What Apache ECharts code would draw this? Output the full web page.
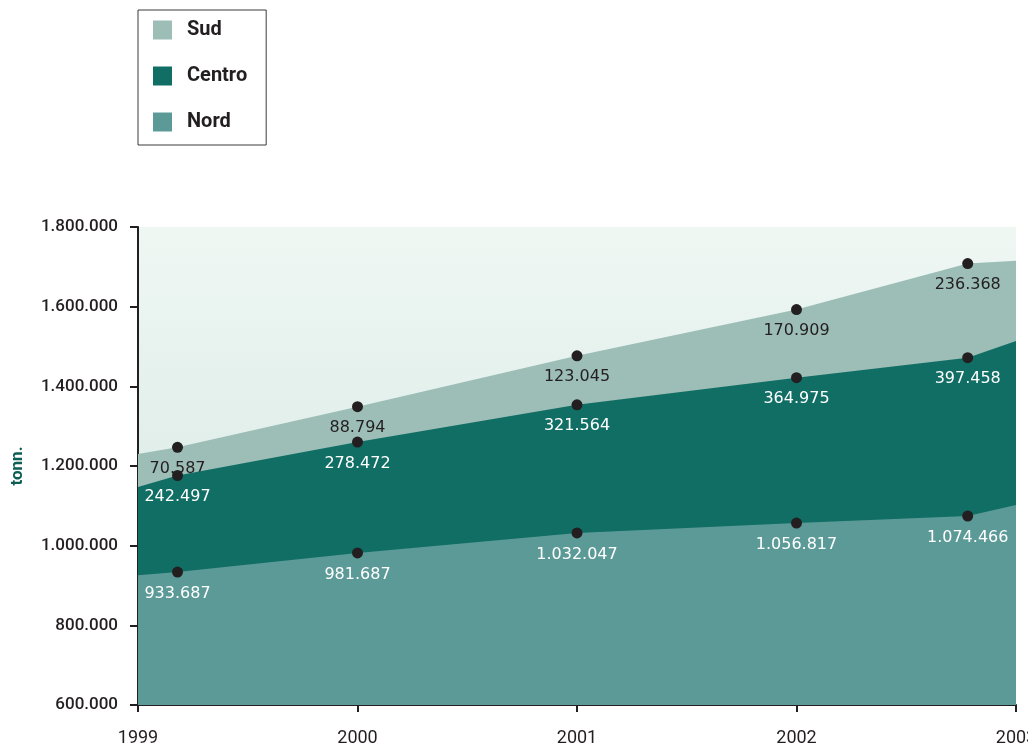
<!DOCTYPE html>
<html>
<head>
<meta charset="utf-8">
<script src="https://cdn.jsdelivr.net/npm/echarts@6/dist/echarts.min.js"></script>
<style>
  html, body { margin: 0; padding: 0; background: #ffffff; }
  #chart { width: 1028px; height: 747px; }
</style>
</head>
<body>
<div id="chart"></div>
<script>
// Year ticks on the horizontal axis
const years = [1999, 2000, 2001, 2002, 2003];
// Where each yearly measurement sits along the time axis
const samplePos = [1999.18, 2000, 2001, 2002, 2002.78];

// Tonnes per macro-area
const nord = [933687, 981687, 1032047, 1056817, 1074466];
const centro = [242497, 278472, 321564, 364975, 397458];
const sud = [70587, 88794, 123045, 170909, 236368];

// Band thickness where each area meets the left and right plot edges
const nordEdge = [926000, 1102000];
const centroEdge = [221000, 412000];
const sudEdge = [83000, 201000];

// Vertical scale
const yMin = 600000, yMax = 1800000, yStep = 200000;

const COLORS = { Nord: '#5c9a98', Centro: '#116e64', Sud: '#9dbdb7' };
const DOT = '#231f20';

function fmt(n) {
  return String(Math.round(n)).replace(/\B(?=(\d{3})+(?!\d))/g, '.');
}

// Running totals, so each band is filled from its own top edge down to the axis
function addArr(a, b) { return a.map((v, i) => v + b[i]); }
const nordTop = nord, nordTopEdge = nordEdge;
const centroTop = addArr(nordTop, centro), centroTopEdge = addArr(nordTopEdge, centroEdge);
const sudTop = addArr(centroTop, sud), sudTopEdge = addArr(centroTopEdge, sudEdge);

function buildData(tops, own, edge) {
  const out = [{ value: [years[0], edge[0]], symbol: 'none', label: { show: false } }];
  tops.forEach((v, i) => out.push({ value: [samplePos[i], v], own: own[i] }));
  out.push({ value: [years[years.length - 1], edge[1]], symbol: 'none', label: { show: false } });
  return out;
}

function areaSeries(name, tops, own, edge, labelColor, z) {
  return {
    name: name,
    type: 'line',
    z: z,
    data: buildData(tops, own, edge),
    showAllSymbol: true,
    symbol: 'circle',
    symbolSize: 11,
    itemStyle: { color: DOT, borderWidth: 0 },
    lineStyle: { width: 0, color: COLORS[name] },
    areaStyle: { color: COLORS[name], opacity: 1, origin: 'start' },
    emphasis: { disabled: true },
    animation: false,
    label: {
      show: true,
      position: 'bottom',
      distance: 8,
      color: labelColor,
      fontFamily: 'DejaVu Sans',
      fontSize: 16,
      formatter: p => fmt(p.data.own)
    }
  };
}

const chart = echarts.init(document.getElementById('chart'), null, { renderer: 'canvas' });

chart.setOption({
  backgroundColor: '#ffffff',
  animation: false,
  legend: {
    orient: 'vertical',
    left: 138,
    top: 10,
    padding: [10, 19, 13, 15],
    itemGap: 26,
    itemWidth: 19,
    itemHeight: 19,
    icon: 'rect',
    borderColor: '#3a3a3a',
    borderWidth: 1,
    backgroundColor: '#ffffff',
    selectedMode: false,
    textStyle: {
      fontFamily: 'Roboto',
      fontSize: 20,
      fontWeight: 'bold',
      color: DOT,
      padding: [0, 0, 0, 10]
    },
    data: [
      { name: 'Sud', itemStyle: { color: COLORS.Sud } },
      { name: 'Centro', itemStyle: { color: COLORS.Centro } },
      { name: 'Nord', itemStyle: { color: COLORS.Nord } }
    ]
  },
  grid: {
    left: 138,
    right: 12,
    top: 227,
    bottom: 42,
    outerBoundsMode: 'none',
    containLabel: false,
    show: true,
    borderWidth: 0,
    backgroundColor: new echarts.graphic.LinearGradient(0, 0, 0, 1, [
      { offset: 0, color: '#eff7f3' },
      { offset: 0.5, color: '#e0eeea' },
      { offset: 1, color: '#d6e8e3' }
    ])
  },
  xAxis: {
    type: 'value',
    min: years[0],
    max: years[years.length - 1],
    interval: 1,
    splitLine: { show: false },
    axisLine: { show: true, lineStyle: { color: DOT, width: 2 } },
    axisTick: { show: true, length: 7, lineStyle: { color: DOT, width: 2 } },
    axisLabel: {
      margin: 24,
      color: DOT,
      fontFamily: 'Roboto',
      fontSize: 18,
      hideOverlap: false,
      showMaxLabel: true,
      formatter: v => String(v)
    }
  },
  yAxis: {
    type: 'value',
    min: yMin,
    max: yMax,
    interval: yStep,
    name: 'tonn.',
    nameLocation: 'middle',
    nameRotate: 90,
    nameGap: 112,
    nameTextStyle: {
      color: '#0d5f55',
      fontFamily: 'Roboto',
      fontWeight: 'bold',
      fontSize: 17
    },
    splitLine: { show: false },
    axisLine: { show: true, lineStyle: { color: DOT, width: 2 } },
    axisTick: { show: true, length: 8, lineStyle: { color: DOT, width: 2 } },
    axisLabel: {
      margin: 20,
      color: DOT,
      fontFamily: 'Roboto',
      fontWeight: 500,
      fontSize: 17,
      formatter: v => fmt(v)
    }
  },
  series: [
    areaSeries('Sud', sudTop, sud, sudTopEdge, DOT, 2),
    areaSeries('Centro', centroTop, centro, centroTopEdge, '#ffffff', 3),
    areaSeries('Nord', nordTop, nord, nordTopEdge, '#ffffff', 4)
  ]
});
</script>
</body>
</html>
